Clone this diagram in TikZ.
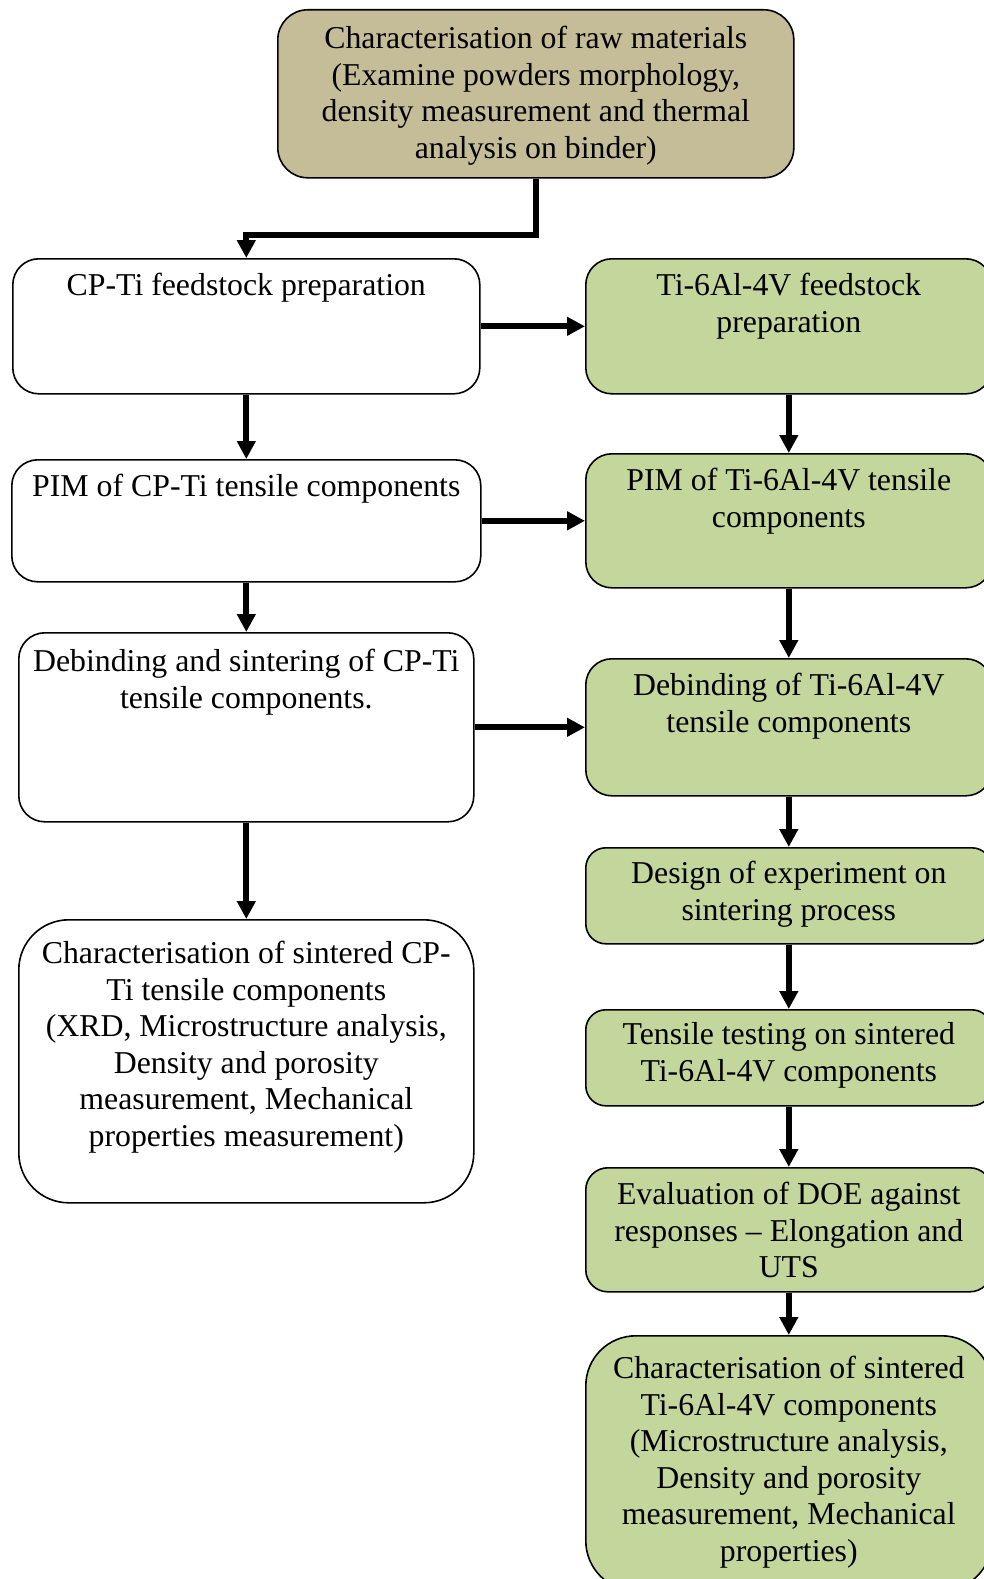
\documentclass[tikz,border=0pt]{standalone}
\usepackage{fontspec}
\setmainfont{Liberation Serif}
\usetikzlibrary{arrows.meta}
\definecolor{rawTan}{HTML}{C4BD97}
\definecolor{alloyGreen}{HTML}{C3D69B}
\newcommand{\flowFont}{\fontsize{31.8}{36.6}\selectfont}
% width, height, top gap, text
\newcommand{\stageText}[4]{\parbox[c][#2][t]{#1}{\centering\vspace*{#3}\strut#4}}

\begin{document}
\begin{tikzpicture}[x=1pt, y=-1pt,
    stage/.style={draw, line width=1.6pt, inner sep=0pt, rounded corners=26pt, anchor=north west, font=\flowFont},
    flow/.style={line width=6pt, -{Triangle[length=18pt,width=18pt]}}]

\useasboundingbox (0,0) rectangle (984,1579);
\clip (0,0) rectangle (984,1579);

\node[stage, fill=rawTan, rounded corners=30pt] (raw) at (277,9) {\stageText{516pt}{168pt}{13pt}{Characterisation of raw materials\\(Examine powders morphology,\\density measurement and thermal\\analysis on binder)}};

% CP-Ti column
\node[stage] (cpFeed) at (12,258) {\stageText{467pt}{135pt}{11pt}{CP-Ti feedstock preparation}};
\node[stage] (cpPim) at (11,459) {\stageText{469pt}{122pt}{11pt}{PIM of CP-Ti tensile components}};
\node[stage] (cpSinter) at (18,632) {\stageText{455pt}{189pt}{13pt}{Debinding and sintering of CP-Ti\\tensile components.}};
\node[stage, rounded corners=50pt] (cpChar) at (18,919) {\stageText{455pt}{283pt}{18pt}{Characterisation of sintered CP-\\Ti tensile components\\(XRD, Microstructure analysis,\\Density and porosity\\measurement, Mechanical\\properties measurement)}};

% Ti-6Al-4V column
\node[stage, fill=alloyGreen] (tiFeed) at (585,258) {\stageText{406pt}{135pt}{11pt}{Ti-6Al-4V feedstock\\preparation}};
\node[stage, fill=alloyGreen] (tiPim) at (585,453) {\stageText{406pt}{134pt}{11pt}{PIM of Ti-6Al-4V tensile\\components}};
\node[stage, fill=alloyGreen] (tiDebind) at (585,658) {\stageText{406pt}{137pt}{11pt}{Debinding of Ti-6Al-4V\\tensile components}};
\node[stage, fill=alloyGreen, rounded corners=20pt] (tiDoe) at (585,847) {\stageText{406pt}{96pt}{10pt}{Design of experiment on\\sintering process}};
\node[stage, fill=alloyGreen, rounded corners=20pt] (tiTensile) at (585,1009) {\stageText{406pt}{96pt}{9pt}{Tensile testing on sintered\\Ti-6Al-4V components}};
\node[stage, fill=alloyGreen, rounded corners=22pt] (tiEval) at (585,1167) {\stageText{406pt}{124pt}{11pt}{Evaluation of DOE against\\responses -- Elongation and\\UTS}};
\node[stage, fill=alloyGreen, rounded corners=50pt] (tiChar) at (585,1335) {\stageText{406pt}{255pt}{17pt}{Characterisation of sintered\\Ti-6Al-4V components\\(Microstructure analysis,\\Density and porosity\\measurement, Mechanical\\properties)}};

\draw[flow] (raw.south) -- ++(0,56) -| (cpFeed.north);

\draw[flow] (cpFeed.south) -- (cpPim.north);
\draw[flow] (cpPim.south) -- (cpSinter.north);
\draw[flow] (cpSinter.south) -- (cpChar.north);

\draw[flow] (cpFeed.east) -- (tiFeed.west);
\draw[flow] (cpPim.east) -- (tiPim.west);
\draw[flow] (cpSinter.east) -- (tiDebind.west);

\draw[flow] (tiFeed.south) -- (tiPim.north);
\draw[flow] (tiPim.south) -- (tiDebind.north);
\draw[flow] (tiDebind.south) -- (tiDoe.north);
\draw[flow] (tiDoe.south) -- (tiTensile.north);
\draw[flow] (tiTensile.south) -- (tiEval.north);
\draw[flow] (tiEval.south) -- (tiChar.north);

\end{tikzpicture}
\end{document}
